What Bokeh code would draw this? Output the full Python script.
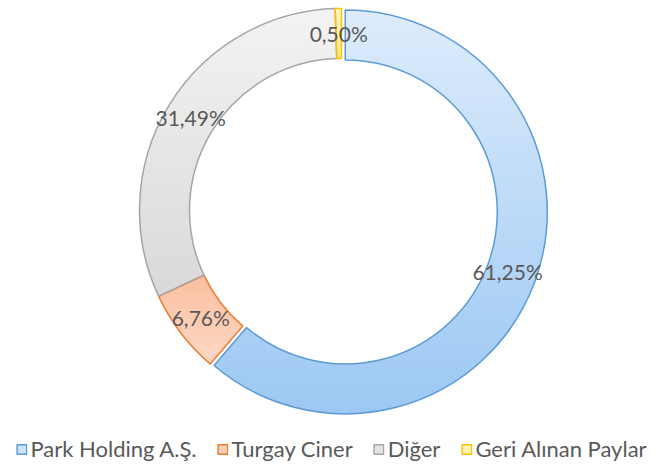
import math
from bokeh.plotting import figure
from bokeh.models import ColumnDataSource, Legend, LegendItem
from bokeh.core.properties import value
from bokeh.embed import file_html
from bokeh.resources import INLINE

categories = ["Park Holding A.Ş.", "Turgay Ciner", "Diğer", "Geri Alınan Paylar"]
shares = [61.25, 6.76, 31.49, 0.50]
labels = ["61,25%", "6,76%", "31,49%", "0,50%"]
top_colors = ["#ddecfc", "#fbbf9f", "#f3f3f3", "#fff6c4"]
bottom_colors = ["#9cc8f3", "#fdd8c6", "#d9d9d9", "#ffe98c"]
legend_fills = ["#cfe4fa", "#fbcfb8", "#e4e4e4", "#fff3b8"]
lines = ["#5b9bd5", "#ed7d31", "#a5a5a5", "#ffc000"]
explode = [4, 0, 0, 0]

W, H = 662, 464
CX, CY = 341, 254
R_OUT, R_IN = 202, 152
N_BANDS = 70


def hex_to_rgb(h):
    h = h.lstrip("#")
    return tuple(int(h[i:i + 2], 16) for i in (0, 2, 4))


def mix(c1, c2, t):
    a, b = hex_to_rgb(c1), hex_to_rgb(c2)
    return "#%02x%02x%02x" % tuple(int(round(a[i] + (b[i] - a[i]) * t)) for i in range(3))


def clip(poly, y0, keep_above):
    out = []
    n = len(poly)
    for i in range(n):
        p1 = poly[i]
        p2 = poly[(i + 1) % n]
        in1 = (p1[1] >= y0) if keep_above else (p1[1] <= y0)
        in2 = (p2[1] >= y0) if keep_above else (p2[1] <= y0)
        if in1:
            out.append(p1)
        if in1 != in2:
            t = (y0 - p1[1]) / (p2[1] - p1[1])
            out.append((p1[0] + t * (p2[0] - p1[0]), y0))
    return out


total = sum(shares)
starts, ends, xs, ys, lx, ly = [], [], [], [], [], []
band_xs, band_ys, band_cols = [], [], []
cum = 0.0
for k, (s, e) in enumerate(zip(shares, explode)):
    a0 = cum / total * 2 * math.pi
    cum += s
    a1 = cum / total * 2 * math.pi
    mid = (a0 + a1) / 2
    ox = CX + e * math.sin(mid)
    oy = CY + e * math.cos(mid)
    starts.append(math.pi / 2 - a0)
    ends.append(math.pi / 2 - a1)
    xs.append(ox)
    ys.append(oy)
    rm = (R_OUT + R_IN) / 2
    lx.append(CX + rm * math.sin(mid))
    ly.append(CY + rm * math.cos(mid))
    steps = max(4, int((a1 - a0) / (2 * math.pi) * 360))
    outer = [(ox + R_OUT * math.sin(a0 + (a1 - a0) * i / steps),
              oy + R_OUT * math.cos(a0 + (a1 - a0) * i / steps)) for i in range(steps + 1)]
    inner = [(ox + R_IN * math.sin(a1 - (a1 - a0) * i / steps),
              oy + R_IN * math.cos(a1 - (a1 - a0) * i / steps)) for i in range(steps + 1)]
    poly = outer + inner
    ymax = max(pt[1] for pt in poly)
    ymin = min(pt[1] for pt in poly)
    h = (ymax - ymin) / N_BANDS
    for b in range(N_BANDS):
        yt = ymax - b * h + 0.6
        yb = ymax - (b + 1) * h - 0.6
        part = clip(clip(poly, yt, False), yb, True)
        if len(part) < 3:
            continue
        band_xs.append([pt[0] for pt in part])
        band_ys.append([pt[1] for pt in part])
        band_cols.append(mix(top_colors[k], bottom_colors[k], (b + 0.5) / N_BANDS))

src = ColumnDataSource(dict(x=xs, y=ys, start=starts, end=ends,
                            line=lines, cat=categories, lab=labels, lx=lx, ly=ly))
bsrc = ColumnDataSource(dict(xs=band_xs, ys=band_ys, col=band_cols))

p = figure(width=W, height=H, x_range=(0, W), y_range=(0, H),
           output_backend="svg", toolbar_location=None, min_border=0)
p.axis.visible = False
p.grid.visible = False
p.outline_line_color = None
p.background_fill_color = "white"

p.patches(xs="xs", ys="ys", fill_color="col", line_color=None, source=bsrc)

p.annular_wedge(x="x", y="y", inner_radius=R_IN, outer_radius=R_OUT,
                start_angle="start", end_angle="end", direction="clock",
                fill_color=None, line_color="line", line_width=1.5, source=src)

p.text(x="lx", y="ly", text="lab", text_align="center", text_baseline="middle",
       text_font=value("Lato"), text_font_size="21px", text_color="#595959",
       source=src)

items = []
nan = float("nan")
for c, f, l in zip(categories, legend_fills, lines):
    r = p.rect(x=[nan], y=[nan], width=1, height=1, fill_color=f, line_color=l, line_width=1.5)
    items.append(LegendItem(label=c, renderers=[r]))

legend = Legend(items=items, orientation="horizontal", location="bottom_center",
                glyph_width=12, glyph_height=12, label_standoff=3, spacing=20,
                label_text_font="Lato", label_text_font_size="22px",
                label_text_color="#595959", border_line_color=None,
                background_fill_alpha=0, padding=0, margin=2)
p.add_layout(legend)

open("out.html", "w").write(file_html(p, INLINE))
